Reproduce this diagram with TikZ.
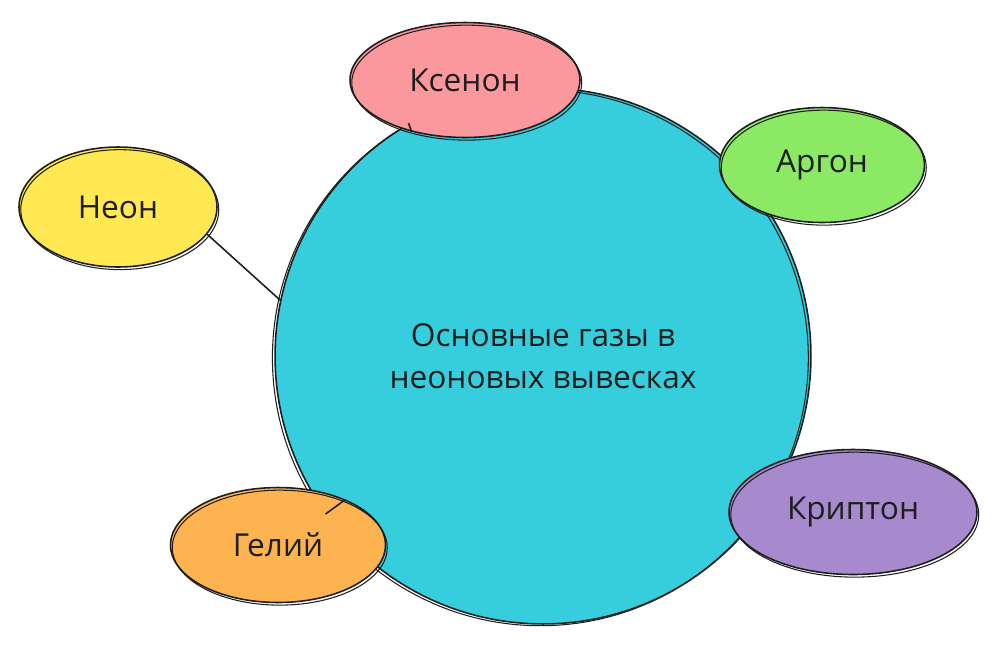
\documentclass[tikz,border=0pt]{standalone}
\usepackage{fontspec}
\setmainfont{Open Sans}
\usetikzlibrary{shapes.geometric}
\definecolor{gascyan}{RGB}{54,206,220}
\definecolor{gaspink}{RGB}{250,152,158}
\definecolor{gasgreen}{RGB}{140,233,100}
\definecolor{gasyellow}{RGB}{255,232,82}
\definecolor{gasorange}{RGB}{253,180,80}
\definecolor{gaspurple}{RGB}{167,137,205}
\definecolor{ink}{RGB}{30,30,30}
\newcommand{\gf}{\fontsize{18}{24}\selectfont}

\begin{document}
\begin{tikzpicture}[x=0.02cm,y=-0.02cm,
   gas/.style={ellipse,draw=ink,line width=0.9pt,inner sep=0pt,text=ink,font=\gf,
     postaction={draw=ink,line width=0.6pt,transform canvas={shift={(1pt,-1.5pt)}}}},
   link/.style={draw=ink,line width=0.9pt}]
   \useasboundingbox (0,0) rectangle (1000,647);
   % big circle
   \node[circle,fill=gascyan,draw=ink,line width=0.9pt,minimum size=10.72cm,
     inner sep=0pt,text=ink,align=center,font=\gf,
     postaction={draw=ink,line width=0.6pt,transform canvas={shift={(-1.5pt,-1pt)}}}]
     (gases) at (543,356) {Основные газы в\\неоновых вывесках};
   % the five gases
   \node[gas,fill=gaspink,minimum width=4.6cm,minimum height=2.3cm]
     (xenon) at (465,80) {Ксенон};
   \node[gas,fill=gasgreen,minimum width=4.1cm,minimum height=2.3cm]
     (argon) at (822,165) {Аргон};
   \node[gas,fill=gasyellow,minimum width=3.96cm,minimum height=2.4cm]
     (neon) at (118,207) {Неон};
   \node[gas,fill=gasorange,minimum width=4.3cm,minimum height=2.3cm]
     (helium) at (278,545) {Гелий};
   \node[gas,fill=gaspurple,minimum width=4.96cm,minimum height=2.5cm]
     (krypton) at (853,512) {Криптон};
   % links
   \draw[link] (neon.-17) -- (gases.168);
   \draw[link] (helium.34) -- (gases.216);
   \draw[link] (gases.120) -- (xenon.224);
\end{tikzpicture}
\end{document}
